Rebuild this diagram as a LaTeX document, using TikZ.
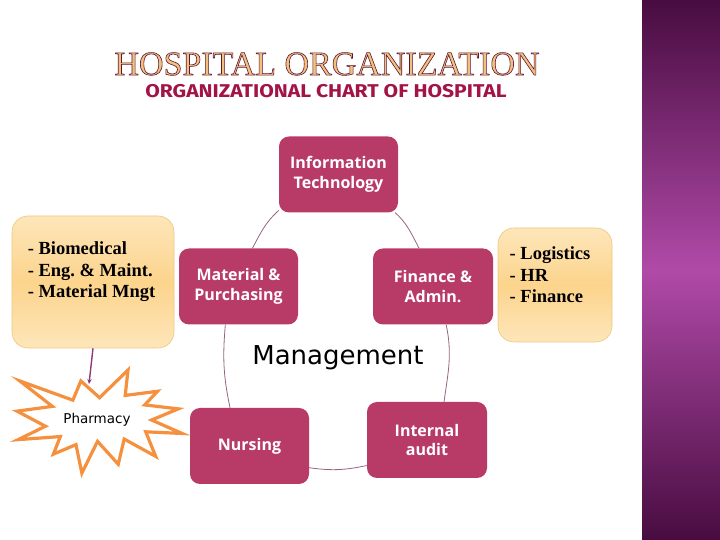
\documentclass[tikz,border=0pt]{standalone}
\usepackage{fontspec}
\setmainfont{Liberation Serif}
\newfontfamily\unitfont{Open Sans}
\newfontfamily\mgmtfont{DejaVu Sans}
\newfontfamily\subfont{Fira Sans}
\usetikzlibrary{arrows.meta,backgrounds}
\definecolor{unitred}{RGB}{184,59,103}
\definecolor{cycline}{RGB}{150,100,130}
\definecolor{notelight}{RGB}{253,230,186}
\definecolor{notedark}{RGB}{252,212,140}
\definecolor{notedge}{RGB}{238,200,125}
\definecolor{titlegold}{RGB}{240,192,128}
\definecolor{subred}{RGB}{162,20,70}
\definecolor{burstorange}{RGB}{245,145,62}
\definecolor{arrowpurple}{RGB}{140,58,115}
\definecolor{bandtop}{RGB}{72,12,64}
\definecolor{bandmid}{RGB}{176,74,168}
% outlined letters for the heading
\newcommand{\outlined}[1]{\special{pdf:literal direct 2 Tr 0.6 w 0.37 0.09 0.2 RG}#1\special{pdf:literal direct 0 Tr}}
\tikzset{
	unit/.style={fill=unitred, rounded corners=10pt, text=white, align=center,
		font=\unitfont\bfseries\fontsize{16}{19.5}\selectfont,
		minimum width=119pt, minimum height=76pt},
	note/.style={draw=notedge, line width=0.6pt, rounded corners=16pt,
		top color=notelight, bottom color=notelight, middle color=notedark},
	notetext/.style={align=left, font=\bfseries\fontsize{18.5}{21.5}\selectfont},
	cyc/.style={draw=cycline, line width=0.8pt},
}
\begin{document}
\begin{tikzpicture}[x=1pt,y=1pt]
	\useasboundingbox (0,0) rectangle (720,540);
	% side band
	\fill[top color=bandtop, bottom color=bandtop, middle color=bandmid] (642,0) rectangle (720,540);
	% headings
	\node[font=\fontsize{34}{40}\selectfont, text=titlegold] (title) at (327,476) {\outlined{HOSPITAL ORGANIZATION}};
	\node[font=\subfont\bfseries\fontsize{18.5}{22}\selectfont, text=subred] (subtitle) at (326,449) {\scalebox{1.14}[1]{ORGANIZATIONAL CHART OF HOSPITAL}};
	% cycle units
	\node[unit] (it)    at (338.5,365.5) {Information\\Technology};
	\node[unit] (mat)   at (238.5,253.5) {Material \&\\Purchasing};
	\node[unit, minimum width=120pt] (fin) at (433,253.5) {Finance \&\\Admin.};
	\node[unit] (nurs)  at (249.5,94) {Nursing};
	\node[unit, minimum width=120pt] (audit) at (427,100) {Internal\\audit};
	\node[font=\mgmtfont\fontsize{26}{30}\selectfont] (mgmt) at (338,182) {Management};
	\begin{scope}[on background layer]
		\draw[cyc] (it.211) to[out=222, in=62] (mat.70);
		\draw[cyc] (it.-34) to[out=-42, in=118] (fin.110);
		\draw[cyc] (mat.251) to[out=-95, in=102] (nurs.117);
		\draw[cyc] (fin.-71) to[out=-78, in=82] (audit.66);
		\draw[cyc] (nurs.-20) to[out=-8, in=192] (audit.203);
	\end{scope}
	% side notes
	\node[note, minimum width=162pt, minimum height=132pt] (bio) at (93,258) {};
	\node[notetext, yshift=10pt, xshift=-1.5pt] (biotext) at (bio) {- Biomedical\\- Eng.\ \& Maint.\\- Material Mngt};
	\node[note, minimum width=114pt, minimum height=114pt] (logi) at (555,255) {};
	\node[notetext, yshift=10pt, xshift=-5pt] (logitext) at (logi) {- Logistics\\- HR\\- Finance};
	% pharmacy burst
	\begin{scope}[shift={(17pt,170pt)}, x=0.0076389pt, y=-0.0047685pt]
		\draw[draw=burstorange, fill=white, line width=3.2pt]
			(10800,5800) -- (14522,0) -- (14155,5325) -- (18380,4457) -- (16702,7315)
			-- (21097,8137) -- (17607,10475) -- (21600,13290) -- (16837,12942)
			-- (18145,18095) -- (14020,14457) -- (13247,19737) -- (10532,14935)
			-- (8485,21600) -- (7715,15627) -- (4762,17617) -- (5667,13937)
			-- (135,14587) -- (3722,11775) -- (0,8615) -- (4627,7617) -- (370,2295)
			-- (7312,6320) -- (8352,2295) -- cycle;
	\end{scope}
	\node[font=\mgmtfont\fontsize{13.5}{16}\selectfont] (pharm) at (97,120) {Pharmacy};
	\coordinate (pharmtip) at (89,156);
	\draw[arrowpurple, line width=1.4pt, -{Stealth[length=5pt,width=4.5pt]}] (bio.south) -- (pharmtip);
\end{tikzpicture}
\end{document}
